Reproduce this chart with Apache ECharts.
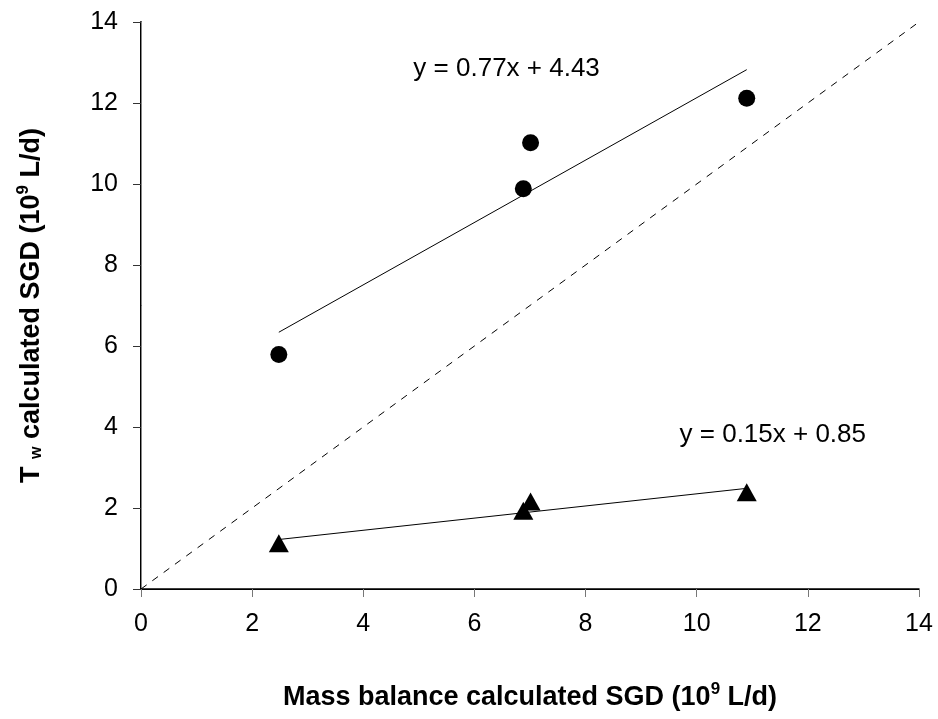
<!DOCTYPE html>
<html>
<head>
<meta charset="utf-8">
<script src="https://cdn.jsdelivr.net/npm/echarts@6/dist/echarts.min.js"></script>
<style>
  html, body { margin: 0; padding: 0; background: #fff; }
  #chart { width: 938px; height: 719px; }
</style>
</head>
<body>
<div id="chart"></div>
<script>
// mass balance SGD (x), shared by both series
var massBalance = [2.48, 6.88, 7.01, 10.9]
// Tw calculated SGD, circles and triangles
var twCircles = [5.79, 9.88, 11.02, 12.12]
var twTriangles = [1.13, 1.93, 2.16, 2.39]
// fitted lines, as printed on the chart
var fitCircles = { slope: 0.77, icept: 4.43, text: 'y = 0.77x + 4.43', at: [4.91, 12.84] }
var fitTriangles = { slope: 0.15, icept: 0.85, text: 'y = 0.15x + 0.85', at: [9.7, 3.8] }
var axisTicks = [0, 2, 4, 6, 8, 10, 12, 14]

var FONT = '"Liberation Sans", Arial, sans-serif'

function pairs(xs, ys) {
    return xs.map(function (x, i) { return [x, ys[i]] })
}
function fitLine(f) {
    var x0 = Math.min.apply(null, massBalance)
    var x1 = Math.max.apply(null, massBalance)
    return [[x0, f.slope * x0 + f.icept], [x1, f.slope * x1 + f.icept]]
}
function eqLabel(f) {
    return {
        type: 'scatter', symbolSize: 1, silent: true, z: 10,
        itemStyle: { color: 'rgba(0,0,0,0)', opacity: 1 },
        label: {
            show: true, position: [0, 0], align: 'left', verticalAlign: 'middle',
            formatter: f.text, color: '#000', opacity: 1, fontSize: 26, fontFamily: FONT
        },
        data: [f.at]
    }
}

var axisMin = axisTicks[0], axisMax = axisTicks[axisTicks.length - 1]
var tickLabel = { color: '#000', fontSize: 25, fontFamily: FONT, margin: 23 }

var myChart = echarts.init(document.getElementById('chart'))

myChart.setOption({
    animation: false,
    backgroundColor: '#fff',
    grid: { left: 141, right: 19, top: 22, bottom: 130 },
    xAxis: [{
        type: 'value', min: axisMin, max: axisMax, interval: 2,
        name: '{b|Mass balance calculated SGD (10}{sup|9}{b| L/d)}',
        nameLocation: 'middle', nameGap: 92,
        nameTextStyle: {
            rich: {
                b: { fontSize: 27, fontWeight: 'bold', fontFamily: FONT, color: '#000', verticalAlign: 'bottom' },
                sup: { fontSize: 17, fontWeight: 'bold', fontFamily: FONT, color: '#000', verticalAlign: 'bottom', padding: [0, 0, 13, 0] }
            }
        },
        axisLine: { onZero: false, lineStyle: { color: '#000', width: 1.5 } },
        axisTick: { length: 8, lineStyle: { color: '#777' } },
        axisLabel: tickLabel,
        splitLine: { show: false }
    }, {
        type: 'value', position: 'top', min: axisMin, max: axisMax,
        axisLine: { show: true, lineStyle: { color: '#000', width: 1 } },
        axisTick: { show: false }, axisLabel: { show: false }, splitLine: { show: false }
    }],
    yAxis: [{
        type: 'value', min: axisMin, max: axisMax, interval: 2,
        name: '{b|T }{sub|w}{b| calculated SGD (10}{sup|9}{b| L/d)}',
        nameLocation: 'middle', nameRotate: 90, nameGap: 96,
        nameTextStyle: {
            rich: {
                b: { fontSize: 27, fontWeight: 'bold', fontFamily: FONT, color: '#000', verticalAlign: 'bottom' },
                sub: { fontSize: 16, fontWeight: 'bold', fontFamily: FONT, color: '#000', verticalAlign: 'bottom' },
                sup: { fontSize: 17, fontWeight: 'bold', fontFamily: FONT, color: '#000', verticalAlign: 'bottom', padding: [0, 0, 13, 0] }
            }
        },
        axisLine: { onZero: false, lineStyle: { color: '#000', width: 2 } },
        axisTick: { length: 8, lineStyle: { color: '#333' } },
        axisLabel: tickLabel,
        splitLine: { show: false }
    }, {
        type: 'value', position: 'right', min: axisMin, max: axisMax,
        axisLine: { show: true, lineStyle: { color: '#888', width: 1 } },
        axisTick: { show: false }, axisLabel: { show: false }, splitLine: { show: false }
    }],
    series: [
        {
            // 1:1 line
            type: 'line', symbol: 'none', silent: true,
            lineStyle: { color: '#000', width: 1, type: [7, 7] },
            data: [[axisMin, axisMin], [axisMax, axisMax]]
        },
        {
            type: 'line', symbol: 'none', silent: true,
            lineStyle: { color: '#000', width: 1 },
            data: fitLine(fitCircles)
        },
        {
            type: 'line', symbol: 'none', silent: true,
            lineStyle: { color: '#000', width: 1 },
            data: fitLine(fitTriangles)
        },
        {
            type: 'scatter', symbol: 'circle', symbolSize: 17,
            itemStyle: { color: '#000', opacity: 1 },
            data: pairs(massBalance, twCircles)
        },
        {
            type: 'scatter', symbol: 'triangle', symbolSize: [20, 18],
            itemStyle: { color: '#000', opacity: 1 },
            data: pairs(massBalance, twTriangles)
        },
        eqLabel(fitCircles),
        eqLabel(fitTriangles)
    ]
})
</script>
</body>
</html>
